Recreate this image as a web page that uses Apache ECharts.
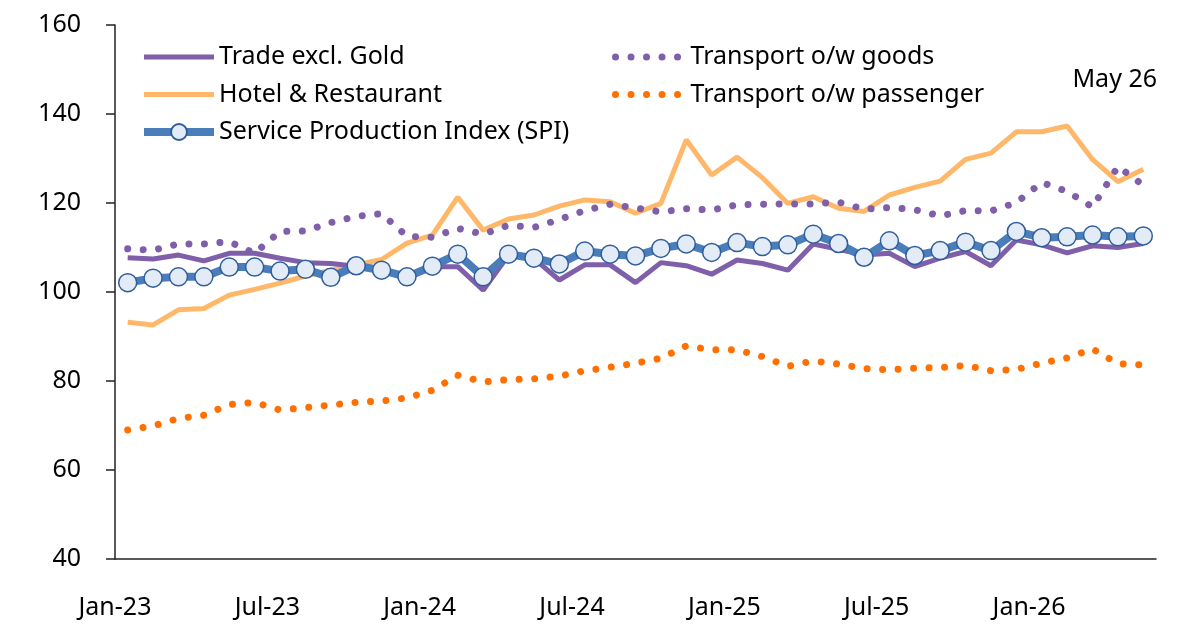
<!DOCTYPE html>
<html>
<head>
<meta charset="utf-8">
<script src="https://cdn.jsdelivr.net/npm/echarts@6/dist/echarts.min.js"></script>
<style>
  html, body { margin: 0; padding: 0; background: #fff; }
  #chart { width: 1185px; height: 624px; }
</style>
</head>
<body>
<div id="chart"></div>
<script>
// months Jan-23 .. May-26
const categories = [
  'Jan-23', 'Feb-23', 'Mar-23', 'Apr-23', 'May-23', 'Jun-23', 'Jul-23', 'Aug-23', 'Sep-23', 'Oct-23', 'Nov-23', 'Dec-23',
  'Jan-24', 'Feb-24', 'Mar-24', 'Apr-24', 'May-24', 'Jun-24', 'Jul-24', 'Aug-24', 'Sep-24', 'Oct-24', 'Nov-24', 'Dec-24',
  'Jan-25', 'Feb-25', 'Mar-25', 'Apr-25', 'May-25', 'Jun-25', 'Jul-25', 'Aug-25', 'Sep-25', 'Oct-25', 'Nov-25', 'Dec-25',
  'Jan-26', 'Feb-26', 'Mar-26', 'Apr-26', 'May-26'
]

const tradeExclGold = [
  107.7, 107.4, 108.3, 107.0, 108.7, 108.7, 107.6, 106.6, 106.4, 105.8, 104.8, 103.5,
  105.7, 105.7, 100.4, 108.3, 107.5, 102.7, 106.1, 106.1, 102.1, 106.6, 105.9, 104.0,
  107.2, 106.4, 104.9, 110.8, 109.6, 108.3, 108.7, 105.7, 107.6, 109.1, 105.9, 111.7,
  110.6, 108.8, 110.4, 110.0, 110.9
]

const hotelRestaurant = [
  93.2, 92.6, 96.0, 96.3, 99.3, 100.6, 102.0, 103.6, 104.9, 106.1, 107.3, 111.0,
  112.8, 121.3, 113.9, 116.4, 117.3, 119.3, 120.7, 120.3, 117.7, 119.9, 134.2, 126.3,
  130.3, 125.7, 119.9, 121.4, 118.8, 118.1, 121.8, 123.5, 124.9, 129.8, 131.2, 136.0,
  136.0, 137.3, 129.8, 124.8, 127.6
]

const spi = [
  102.1, 103.1, 103.4, 103.4, 105.6, 105.6, 104.7, 105.1, 103.3, 105.9, 104.9, 103.4,
  105.8, 108.5, 103.4, 108.5, 107.6, 106.3, 109.2, 108.5, 108.1, 109.8, 110.8, 108.9,
  111.1, 110.2, 110.6, 113.0, 110.9, 107.8, 111.5, 108.2, 109.3, 111.2, 109.3, 113.6,
  112.2, 112.4, 112.8, 112.4, 112.6
]

const transportGoods = [
  109.7, 109.4, 110.8, 110.8, 111.3, 108.7, 113.6, 113.7, 115.6, 117.0, 117.6, 112.5,
  112.3, 114.3, 113.0, 115.0, 114.5, 116.3, 118.3, 119.7, 118.9, 118.0, 118.7, 118.4,
  119.6, 119.7, 119.8, 119.8, 120.2, 118.6, 119.0, 118.5, 117.1, 118.3, 118.2, 120.1,
  124.6, 122.6, 119.1, 128.2, 124.0
]

const transportPassenger = [
  69.0, 69.9, 71.6, 72.3, 74.7, 75.2, 73.5, 74.0, 74.6, 75.2, 75.5, 76.2,
  77.9, 81.3, 79.8, 80.3, 80.5, 81.1, 82.3, 83.1, 84.0, 85.1, 87.9, 87.0,
  87.0, 85.5, 83.3, 84.5, 83.8, 82.8, 82.5, 82.9, 83.0, 83.5, 82.3, 82.6,
  84.0, 85.2, 87.2, 83.9, 83.6
]

const yTicks = { min: 40, max: 160, step: 20 }

const FONT = '"Noto Sans", sans-serif'
const FONT_SIZE = 25
const TEXT_COLOR = '#000'
const AXIS_COLOR = '#222'

const dotted = (color) => ({
  color,
  width: 7,
  type: [0.01, 15.5],
  cap: 'round'
})

// lines without markers: hide the legend's circle, keep the line
const noMarker = { itemStyle: { opacity: 0 } }

const legendBase = {
  orient: 'vertical',
  top: 42,
  padding: 0,
  itemWidth: 70,
  itemHeight: 20,
  itemGap: 7.5,
  lineStyle: { width: 'inherit' },
  textStyle: { fontFamily: FONT, fontSize: FONT_SIZE, color: TEXT_COLOR, lineHeight: 30 },
  selectedMode: false
}

const option = {
  animation: false,
  backgroundColor: '#fff',
  grid: { left: 115, right: 29, top: 25, bottom: 65, containLabel: false },
  legend: [
    Object.assign({}, legendBase, {
      left: 140,
      data: [
        Object.assign({ name: 'Trade excl. Gold' }, noMarker),
        Object.assign({ name: 'Hotel & Restaurant' }, noMarker),
        { name: 'Service Production Index (SPI)' }
      ]
    }),
    Object.assign({}, legendBase, {
      left: 612,
      data: [
        Object.assign({ name: 'Transport o/w goods' }, noMarker),
        Object.assign({ name: 'Transport o/w passenger' }, noMarker)
      ]
    })
  ],
  graphic: [{
    type: 'text',
    right: 28,
    top: 67,
    style: { text: 'May 26', font: FONT_SIZE + 'px ' + FONT, fill: TEXT_COLOR }
  }],
  xAxis: {
    type: 'category',
    data: categories,
    boundaryGap: true,
    axisLine: { lineStyle: { color: AXIS_COLOR, width: 1.5 } },
    axisTick: { length: 10, interval: 5, lineStyle: { color: AXIS_COLOR, width: 1.5 } },
    axisLabel: {
      interval: 5,
      margin: 36,
      padding: [0, 25.4, 0, 0],
      fontFamily: FONT,
      fontSize: FONT_SIZE,
      color: TEXT_COLOR
    },
    splitLine: { show: false }
  },
  yAxis: {
    type: 'value',
    min: yTicks.min,
    max: yTicks.max,
    interval: yTicks.step,
    axisLine: { show: true, lineStyle: { color: AXIS_COLOR, width: 1.5 } },
    axisTick: { show: true, length: 9, lineStyle: { color: AXIS_COLOR, width: 1.5 } },
    axisLabel: { margin: 34, fontFamily: FONT, fontSize: FONT_SIZE, color: TEXT_COLOR },
    splitLine: { show: false }
  },
  series: [
    {
      name: 'Hotel & Restaurant',
      type: 'line',
      data: hotelRestaurant,
      symbol: 'none',
      itemStyle: { color: '#FFB86A' },
      lineStyle: { color: '#FFB86A', width: 5 },
      z: 2
    },
    {
      name: 'Trade excl. Gold',
      type: 'line',
      data: tradeExclGold,
      symbol: 'none',
      itemStyle: { color: '#7F5FA9' },
      lineStyle: { color: '#7F5FA9', width: 5 },
      z: 3
    },
    {
      name: 'Service Production Index (SPI)',
      type: 'line',
      data: spi,
      symbol: 'circle',
      symbolSize: 18,
      showAllSymbol: true,
      itemStyle: { color: '#E3EBF7', borderColor: '#2F5E9C', borderWidth: 1.5 },
      lineStyle: { color: '#4A7EBB', width: 8 },
      z: 4
    },
    {
      name: 'Transport o/w goods',
      type: 'line',
      data: transportGoods,
      symbol: 'none',
      itemStyle: { color: '#7F5FA9' },
      lineStyle: dotted('#7F5FA9'),
      z: 5
    },
    {
      name: 'Transport o/w passenger',
      type: 'line',
      data: transportPassenger,
      symbol: 'none',
      itemStyle: { color: '#FF7000' },
      lineStyle: dotted('#FF7000'),
      z: 5
    }
  ]
}

const chart = echarts.init(document.getElementById('chart'), null, { renderer: 'canvas' })
chart.setOption(option)
</script>
</body>
</html>
